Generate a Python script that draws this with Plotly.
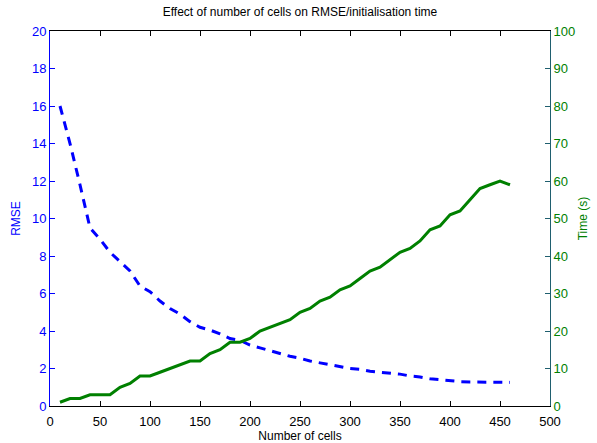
import plotly.graph_objects as go

cells = [10, 20, 30, 40, 50, 60, 70, 80, 90, 100, 110, 120, 130, 140, 150, 160, 170, 180, 190, 200,
         210, 220, 230, 240, 250, 260, 270, 280, 290, 300, 310, 320, 330, 340, 350, 360, 370, 380,
         390, 400, 410, 420, 430, 440, 450, 460]
rmse = [16.0, 14.0, 11.8, 9.5, 8.9, 8.2, 7.7, 7.2, 6.4, 6.1, 5.6, 5.2, 4.9, 4.5, 4.2, 4.05, 3.85, 3.6,
        3.5, 3.25, 3.1, 2.95, 2.8, 2.65, 2.55, 2.4, 2.3, 2.2, 2.1, 2.0, 1.95, 1.85, 1.8, 1.75, 1.7,
        1.6, 1.55, 1.45, 1.4, 1.32, 1.3, 1.28, 1.27, 1.26, 1.26, 1.26]
init_time = [1, 2, 2, 3, 3, 3, 5, 6, 8, 8, 9, 10, 11, 12, 12, 14, 15, 17, 17, 18, 20, 21, 22, 23, 25,
             26, 28, 29, 31, 32, 34, 36, 37, 39, 41, 42, 44, 47, 48, 51, 52, 55, 58, 59, 60, 59]

x_ticks = list(range(0, 501, 50))
rmse_ticks = list(range(0, 21, 2))
time_ticks = list(range(0, 101, 10))

BLUE = "#0000ff"
GREEN = "#008000"
FONT = "Liberation Sans, Arial, sans-serif"

fig = go.Figure()
fig.add_trace(go.Scatter(x=cells, y=rmse, mode="lines", yaxis="y",
                         line=dict(color=BLUE, width=3, dash="9px,7px"), showlegend=False))
fig.add_trace(go.Scatter(x=cells, y=init_time, mode="lines", yaxis="y2",
                         line=dict(color=GREEN, width=3), showlegend=False))

fig.update_layout(
    width=597, height=443,
    margin=dict(l=50, r=47, t=31, b=37),
    paper_bgcolor="white", plot_bgcolor="white",
    font=dict(family=FONT, size=12, color="black"),
    title=dict(text="Effect of number of cells on RMSE/initialisation time",
               x=0.5, xanchor="center", xref="paper", y=1 - 12 / 443, yanchor="middle",
               yref="container", font=dict(size=12, color="black")),
    xaxis=dict(range=[0, 500], tickvals=x_ticks, ticktext=[str(v) for v in x_ticks],
               showgrid=False, zeroline=False, showline=True, linecolor="black", linewidth=1,
               mirror="ticks", ticks="inside", ticklen=5, tickcolor="black", automargin=False,
               ticklabelstandoff=3,
               tickfont=dict(size=13, color="black"),
               title=dict(text="Number of cells", font=dict(size=12, color="black"), standoff=2)),
    yaxis=dict(range=[0, 20], tickvals=rmse_ticks, showgrid=False, zeroline=False,
               showline=True, linecolor=BLUE, linewidth=1, ticks="inside", ticklen=5,
               tickcolor=BLUE, tickfont=dict(size=13, color=BLUE), automargin=False,
               title=dict(text="RMSE", font=dict(size=12, color=BLUE), standoff=8)),
    yaxis2=dict(range=[0, 100], tickvals=time_ticks, overlaying="y", side="right",
                showgrid=False, zeroline=False, showline=True, linecolor="#1f5f6f", linewidth=1,
                ticks="inside", ticklen=5, tickcolor="#1f5f6f", automargin=False,
                tickfont=dict(size=13, color=GREEN),
                title=dict(text="Time (s)", font=dict(size=12, color=GREEN), standoff=4)),
)

fig.write_html("out.html")
